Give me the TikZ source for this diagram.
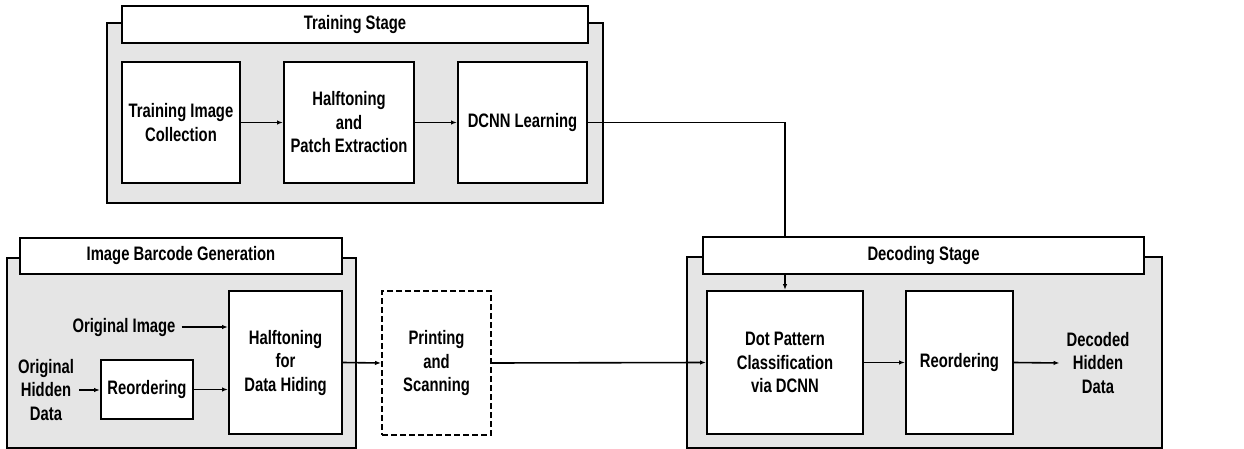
\documentclass[tikz,border=0pt]{standalone}
\usepackage{fontspec}
\setmainfont{Liberation Sans}[FakeStretch=0.76]
\usetikzlibrary{arrows.meta}
\tikzset{
  stagebox/.style={draw, line width=2pt, fill=black!10, rectangle, inner sep=0pt},
  titlebox/.style={draw, line width=2pt, fill=white, rectangle, inner sep=0pt, font=\fontsize{19.5}{23.5}\selectfont\bfseries},
  procbox/.style={draw, line width=2pt, fill=white, rectangle, inner sep=0pt, align=center, font=\fontsize{19.5}{23.5}\selectfont\bfseries},
  plaintext/.style={inner sep=1pt, align=center, font=\fontsize{19.5}{23.5}\selectfont\bfseries},
  arr/.style={line width=1.6pt, -{Latex[length=6pt,width=4.5pt]}},
  conn/.style={line width=1.6pt}
}
\begin{document}
\begin{tikzpicture}[x=1pt,y=-1pt]
\useasboundingbox (0,0) rectangle (1244,449);
% Training stage
\node[stagebox, minimum width=496pt, minimum height=180pt] (tout) at (355,113) {};
\node[titlebox, minimum width=466pt, minimum height=37pt] (ttitle) at (355,24.5) {Training Stage};
\node[procbox, minimum width=118pt, minimum height=121pt] (tic) at (181,122.5) {Training Image\\Collection};
\node[procbox, minimum width=130pt, minimum height=121pt] (hpe) at (349,122.5) {Halftoning\\and\\Patch Extraction};
\node[procbox, minimum width=129pt, minimum height=121pt] (dcnn) at (522.5,122.5) {DCNN Learning};
\draw[arr] (tic.east) -- (hpe.west);
\draw[arr] (hpe.east) -- (dcnn.west);
% Image barcode generation
\node[stagebox, minimum width=349pt, minimum height=190pt] (bout) at (181.5,353) {};
\node[titlebox, minimum width=322pt, minimum height=36pt] (btitle) at (181,256) {Image Barcode Generation};
\node[procbox, minimum width=113pt, minimum height=143pt] (hdh) at (285.5,362.5) {Halftoning\\for\\Data Hiding};
\node[procbox, minimum width=92pt, minimum height=59pt] (r1) at (147,389.5) {Reordering};
\node[plaintext] (oimg) at (124,327) {Original Image};
\node[plaintext] (ohd) at (46,390) {Original\\Hidden\\Data};
\draw[arr] ([xshift=5pt]oimg.east) -- (oimg.east -| hdh.west);
\draw[arr] ([xshift=4pt]ohd.east) -- (ohd.east -| r1.west);
\draw[arr] (r1.east) -- (r1.east -| hdh.west);
% Printing and scanning
\node[procbox, dash pattern=on 6pt off 3pt, minimum width=109pt, minimum height=144pt] (ps) at (436.5,363) {Printing\\and\\Scanning};
% Decoding stage
\node[stagebox, minimum width=475pt, minimum height=191pt] (dout) at (924.5,352.5) {};
\node[titlebox, minimum width=441pt, minimum height=37pt] (dtitle) at (923.5,255.5) {Decoding Stage};
\node[procbox, minimum width=156pt, minimum height=143pt] (dot) at (785,362.5) {Dot Pattern\\Classification\\via DCNN};
\node[procbox, minimum width=107pt, minimum height=143pt] (r2) at (959.5,362.5) {Reordering};
\node[plaintext] (dec) at (1098,363) {Decoded\\Hidden\\Data};
\draw[arr] (hdh.east) -- (ps.west);
\draw[arr] (ps.east) -- (dot.west);
\draw[arr] (dot.east) -- (r2.west);
\draw[arr] (r2.east) -- ([xshift=-6pt]dec.west);
\draw[conn] (dcnn.east) -| (dtitle.north -| dot.north);
\draw[arr] (dtitle.south -| dot.north) -- (dot.north);
\end{tikzpicture}
\end{document}
